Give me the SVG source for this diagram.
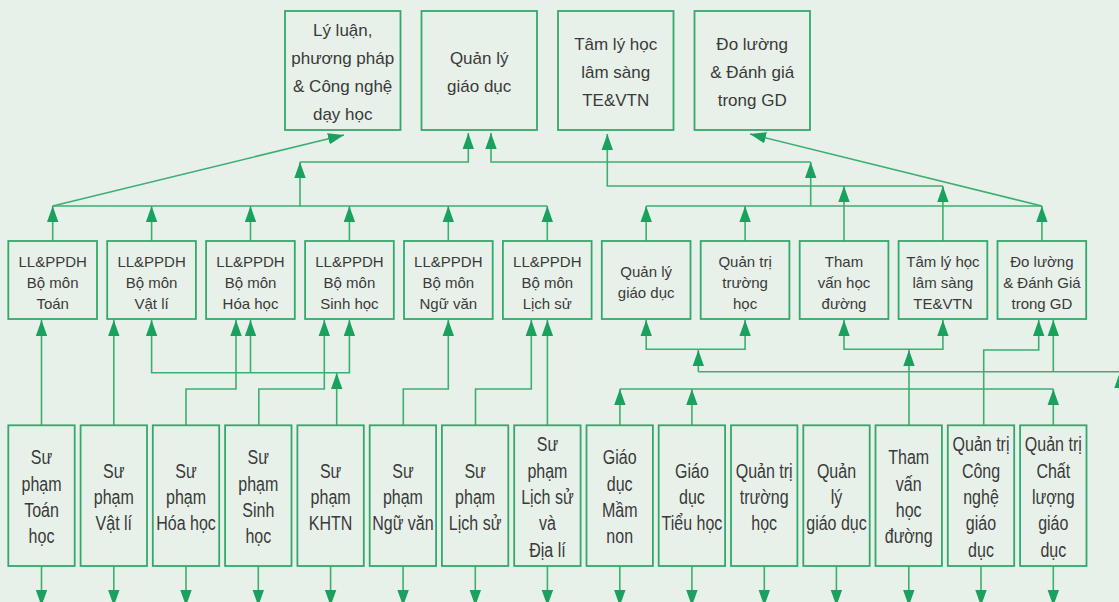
<svg xmlns="http://www.w3.org/2000/svg" width="1119" height="602" viewBox="0 0 1119 602">
<style>
.bx{fill:none;stroke:#34a86c;stroke-width:1.8}
.ln{fill:none;stroke:#3dae72;stroke-width:1.6}
.t{font-family:"Liberation Sans",Arial,sans-serif;font-size:17px;fill:#3a3a3a;text-anchor:middle}
.m{font-family:"Liberation Sans",Arial,sans-serif;font-size:15px;fill:#3a3a3a;text-anchor:middle}
.b{font-family:"Liberation Sans",Arial,sans-serif;font-size:20px;fill:#3a3a3a;text-anchor:middle}
</style>
<defs>
<marker id="ah" markerUnits="userSpaceOnUse" markerWidth="16" markerHeight="12" viewBox="0 0 16 12" refX="16" refY="6" orient="auto">
<path d="M0,0.3 L16,6 L0,11.7 z" fill="#1ba15e"/>
</marker>
</defs>
<rect width="1119" height="602" fill="#e8f1e9"/>

<g id="connectors" class="ln" marker-end="url(#ah)">
<!-- top level -->
<polyline points="52.7,206 547.3,206" marker-end="none"/>
<line x1="52.7" y1="241" x2="52.7" y2="206"/>
<line x1="151.6" y1="241" x2="151.6" y2="206"/>
<line x1="250.5" y1="241" x2="250.5" y2="206"/>
<line x1="349.4" y1="241" x2="349.4" y2="206"/>
<line x1="448.3" y1="241" x2="448.3" y2="206"/>
<line x1="547.3" y1="241" x2="547.3" y2="206"/>
<line x1="52.7" y1="206" x2="344" y2="135"/>
<line x1="300" y1="206" x2="300" y2="162"/>
<polyline points="300,162 468.3,162 468.3,133"/>
<polyline points="646.2,206 1041.9,206" marker-end="none"/>
<line x1="646.2" y1="241" x2="646.2" y2="206"/>
<line x1="745.1" y1="241" x2="745.1" y2="206"/>
<line x1="1041.9" y1="241" x2="1041.9" y2="206"/>
<line x1="810.7" y1="206" x2="810.7" y2="162"/>
<polyline points="810.7,162 491,162 491,133"/>
<line x1="1041.9" y1="206" x2="750" y2="134"/>
<line x1="844" y1="241" x2="844" y2="186"/>
<line x1="942.9" y1="241" x2="942.9" y2="186"/>
<polyline points="942.9,186 607.3,186 607.3,134"/>
<!-- bottom level -->
<line x1="41.5" y1="425" x2="41.5" y2="320"/>
<line x1="113.8" y1="425" x2="113.8" y2="320"/>
<polyline points="186,425 186,389 236,389 236,320"/>
<polyline points="258.8,425 258.8,389 324.3,389 324.3,320"/>
<line x1="336.7" y1="425" x2="336.7" y2="373"/>
<polyline points="250.5,372.7 151.6,372.7 151.6,320"/>
<polyline points="250.5,372.7 349.4,372.7 349.4,320"/>
<line x1="250.5" y1="372.7" x2="250.5" y2="320"/>
<polyline points="403.3,425 403.3,389 448.3,389 448.3,320"/>
<polyline points="475.5,425 475.5,389 531.3,389 531.3,320"/>
<line x1="547.4" y1="425" x2="547.4" y2="320"/>
<polyline points="619.9,389 1053.3,389" marker-end="none"/>
<line x1="619.9" y1="425" x2="619.9" y2="389"/>
<line x1="691.9" y1="425" x2="691.9" y2="389"/>
<line x1="1053.3" y1="425" x2="1053.3" y2="389"/>
<line x1="909" y1="425" x2="909" y2="350"/>
<polyline points="909,349.3 844,349.3 844,320"/>
<polyline points="909,349.3 942.9,349.3 942.9,320"/>
<polyline points="983.7,425 983.7,350 1038.7,350 1038.7,320"/>
<polyline points="698.3,349.3 646.2,349.3 646.2,320"/>
<polyline points="698.3,349.3 745.1,349.3 745.1,320"/>
<polyline points="698.3,371.7 1125,371.7" marker-end="none"/>
<line x1="698.3" y1="371.7" x2="698.3" y2="350"/>
<line x1="1053.3" y1="371.7" x2="1053.3" y2="320"/>
<line x1="1120" y1="425" x2="1120" y2="372"/>
<!-- down arrows -->
<line x1="41.5" y1="566" x2="41.5" y2="606"/>
<line x1="113.8" y1="566" x2="113.8" y2="606"/>
<line x1="186" y1="566" x2="186" y2="606"/>
<line x1="258.3" y1="566" x2="258.3" y2="606"/>
<line x1="330.6" y1="566" x2="330.6" y2="606"/>
<line x1="403.1" y1="566" x2="403.1" y2="606"/>
<line x1="475.3" y1="566" x2="475.3" y2="606"/>
<line x1="547.4" y1="566" x2="547.4" y2="606"/>
<line x1="619.8" y1="566" x2="619.8" y2="606"/>
<line x1="691.9" y1="566" x2="691.9" y2="606"/>
<line x1="764.3" y1="566" x2="764.3" y2="606"/>
<line x1="836.4" y1="566" x2="836.4" y2="606"/>
<line x1="908.8" y1="566" x2="908.8" y2="606"/>
<line x1="981" y1="566" x2="981" y2="606"/>
<line x1="1053.3" y1="566" x2="1053.3" y2="606"/>
</g>

<!-- top row -->
<g id="top1"><rect class="bx" x="285" y="11" width="115.5" height="119"/>
<text class="t"><tspan x="342.7" y="36">Lý luận,</tspan><tspan x="342.7" y="64">phương pháp</tspan><tspan x="342.7" y="92">&amp; Công nghệ</tspan><tspan x="342.7" y="120">dạy học</tspan></text></g>
<g id="top2"><rect class="bx" x="421.5" y="11" width="115.5" height="119"/>
<text class="t"><tspan x="479.2" y="64">Quản lý</tspan><tspan x="479.2" y="92">giáo dục</tspan></text></g>
<g id="top3"><rect class="bx" x="558" y="11" width="115.5" height="119"/>
<text class="t"><tspan x="615.7" y="50">Tâm lý học</tspan><tspan x="615.7" y="78">lâm sàng</tspan><tspan x="615.7" y="106">TE&amp;VTN</tspan></text></g>
<g id="top4"><rect class="bx" x="694.5" y="11" width="115.5" height="119"/>
<text class="t"><tspan x="752.2" y="50">Đo lường</tspan><tspan x="752.2" y="78">&amp; Đánh giá</tspan><tspan x="752.2" y="106">trong GD</tspan></text></g>

<!-- middle row -->
<g id="mid1"><rect class="bx" x="8.3" y="241" width="88.7" height="78"/>
<text class="m"><tspan x="52.7" y="266.5">LL&amp;PPDH</tspan><tspan x="52.7" y="287.5">Bộ môn</tspan><tspan x="52.7" y="308.5">Toán</tspan></text></g>
<g id="mid2"><rect class="bx" x="107.2" y="241" width="88.7" height="78"/>
<text class="m"><tspan x="151.6" y="266.5">LL&amp;PPDH</tspan><tspan x="151.6" y="287.5">Bộ môn</tspan><tspan x="151.6" y="308.5">Vật lí</tspan></text></g>
<g id="mid3"><rect class="bx" x="206.1" y="241" width="88.7" height="78"/>
<text class="m"><tspan x="250.5" y="266.5">LL&amp;PPDH</tspan><tspan x="250.5" y="287.5">Bộ môn</tspan><tspan x="250.5" y="308.5">Hóa học</tspan></text></g>
<g id="mid4"><rect class="bx" x="305.1" y="241" width="88.7" height="78"/>
<text class="m"><tspan x="349.4" y="266.5">LL&amp;PPDH</tspan><tspan x="349.4" y="287.5">Bộ môn</tspan><tspan x="349.4" y="308.5">Sinh học</tspan></text></g>
<g id="mid5"><rect class="bx" x="404" y="241" width="88.7" height="78"/>
<text class="m"><tspan x="448.3" y="266.5">LL&amp;PPDH</tspan><tspan x="448.3" y="287.5">Bộ môn</tspan><tspan x="448.3" y="308.5">Ngữ văn</tspan></text></g>
<g id="mid6"><rect class="bx" x="502.9" y="241" width="88.7" height="78"/>
<text class="m"><tspan x="547.3" y="266.5">LL&amp;PPDH</tspan><tspan x="547.3" y="287.5">Bộ môn</tspan><tspan x="547.3" y="308.5">Lịch sử</tspan></text></g>
<g id="mid7"><rect class="bx" x="601.8" y="241" width="88.7" height="78"/>
<text class="m"><tspan x="646.2" y="277">Quản lý</tspan><tspan x="646.2" y="298">giáo dục</tspan></text></g>
<g id="mid8"><rect class="bx" x="700.7" y="241" width="88.7" height="78"/>
<text class="m"><tspan x="745.1" y="266.5">Quản trị</tspan><tspan x="745.1" y="287.5">trường</tspan><tspan x="745.1" y="308.5">học</tspan></text></g>
<g id="mid9"><rect class="bx" x="799.7" y="241" width="88.7" height="78"/>
<text class="m"><tspan x="844" y="266.5">Tham</tspan><tspan x="844" y="287.5">vấn học</tspan><tspan x="844" y="308.5">đường</tspan></text></g>
<g id="mid10"><rect class="bx" x="898.6" y="241" width="88.7" height="78"/>
<text class="m"><tspan x="942.9" y="266.5">Tâm lý học</tspan><tspan x="942.9" y="287.5">lâm sàng</tspan><tspan x="942.9" y="308.5">TE&amp;VTN</tspan></text></g>
<g id="mid11"><rect class="bx" x="997.5" y="241" width="88.7" height="78"/>
<text class="m"><tspan x="1041.9" y="266.5">Đo lường</tspan><tspan x="1041.9" y="287.5">&amp; Đánh Giá</tspan><tspan x="1041.9" y="308.5">trong GD</tspan></text></g>

<!-- bottom row -->
<g id="bot1"><rect class="bx" x="8.3" y="425.3" width="66.4" height="140.7"/>
<text class="b" transform="matrix(0.8 0 0 1 41.5 0)"><tspan x="0" y="464.5">Sư</tspan><tspan x="0" y="490.8">phạm</tspan><tspan x="0" y="517.1">Toán</tspan><tspan x="0" y="543.4">học</tspan></text></g>
<g id="bot2"><rect class="bx" x="80.6" y="425.3" width="66.4" height="140.7"/>
<text class="b" transform="matrix(0.8 0 0 1 113.8 0)"><tspan x="0" y="477.7">Sư</tspan><tspan x="0" y="504">phạm</tspan><tspan x="0" y="530.3">Vật lí</tspan></text></g>
<g id="bot3"><rect class="bx" x="152.8" y="425.3" width="66.4" height="140.7"/>
<text class="b" transform="matrix(0.8 0 0 1 186 0)"><tspan x="0" y="477.7">Sư</tspan><tspan x="0" y="504">phạm</tspan><tspan x="0" y="530.3">Hóa học</tspan></text></g>
<g id="bot4"><rect class="bx" x="225.1" y="425.3" width="66.4" height="140.7"/>
<text class="b" transform="matrix(0.8 0 0 1 258.3 0)"><tspan x="0" y="464.5">Sư</tspan><tspan x="0" y="490.8">phạm</tspan><tspan x="0" y="517.1">Sinh</tspan><tspan x="0" y="543.4">học</tspan></text></g>
<g id="bot5"><rect class="bx" x="297.4" y="425.3" width="66.4" height="140.7"/>
<text class="b" transform="matrix(0.8 0 0 1 330.6 0)"><tspan x="0" y="477.7">Sư</tspan><tspan x="0" y="504">phạm</tspan><tspan x="0" y="530.3">KHTN</tspan></text></g>
<g id="bot6"><rect class="bx" x="369.7" y="425.3" width="66.4" height="140.7"/>
<text class="b" transform="matrix(0.8 0 0 1 402.9 0)"><tspan x="0" y="477.7">Sư</tspan><tspan x="0" y="504">phạm</tspan><tspan x="0" y="530.3">Ngữ văn</tspan></text></g>
<g id="bot7"><rect class="bx" x="441.9" y="425.3" width="66.4" height="140.7"/>
<text class="b" transform="matrix(0.8 0 0 1 475.1 0)"><tspan x="0" y="477.7">Sư</tspan><tspan x="0" y="504">phạm</tspan><tspan x="0" y="530.3">Lịch sử</tspan></text></g>
<g id="bot8"><rect class="bx" x="514.2" y="425.3" width="66.4" height="140.7"/>
<text class="b" transform="matrix(0.8 0 0 1 547.4 0)"><tspan x="0" y="451.4">Sư</tspan><tspan x="0" y="477.7">phạm</tspan><tspan x="0" y="504">Lịch sử</tspan><tspan x="0" y="530.3">và</tspan><tspan x="0" y="556.6">Địa lí</tspan></text></g>
<g id="bot9"><rect class="bx" x="586.5" y="425.3" width="66.4" height="140.7"/>
<text class="b" transform="matrix(0.8 0 0 1 619.7 0)"><tspan x="0" y="464.5">Giáo</tspan><tspan x="0" y="490.8">dục</tspan><tspan x="0" y="517.1">Mầm</tspan><tspan x="0" y="543.4">non</tspan></text></g>
<g id="bot10"><rect class="bx" x="658.7" y="425.3" width="66.4" height="140.7"/>
<text class="b" transform="matrix(0.8 0 0 1 691.9 0)"><tspan x="0" y="477.7">Giáo</tspan><tspan x="0" y="504">dục</tspan><tspan x="0" y="530.3">Tiểu học</tspan></text></g>
<g id="bot11"><rect class="bx" x="731" y="425.3" width="66.4" height="140.7"/>
<text class="b" transform="matrix(0.8 0 0 1 764.2 0)"><tspan x="0" y="477.7">Quản trị</tspan><tspan x="0" y="504">trường</tspan><tspan x="0" y="530.3">học</tspan></text></g>
<g id="bot12"><rect class="bx" x="803.3" y="425.3" width="66.4" height="140.7"/>
<text class="b" transform="matrix(0.8 0 0 1 836.5 0)"><tspan x="0" y="477.7">Quản</tspan><tspan x="0" y="504">lý</tspan><tspan x="0" y="530.3">giáo dục</tspan></text></g>
<g id="bot13"><rect class="bx" x="875.5" y="425.3" width="66.4" height="140.7"/>
<text class="b" transform="matrix(0.8 0 0 1 908.7 0)"><tspan x="0" y="464.5">Tham</tspan><tspan x="0" y="490.8">vấn</tspan><tspan x="0" y="517.1">học</tspan><tspan x="0" y="543.4">đường</tspan></text></g>
<g id="bot14"><rect class="bx" x="947.8" y="425.3" width="66.4" height="140.7"/>
<text class="b" transform="matrix(0.8 0 0 1 981 0)"><tspan x="0" y="451.4">Quản trị</tspan><tspan x="0" y="477.7">Công</tspan><tspan x="0" y="504">nghệ</tspan><tspan x="0" y="530.3">giáo</tspan><tspan x="0" y="556.6">dục</tspan></text></g>
<g id="bot15"><rect class="bx" x="1020.1" y="425.3" width="66.4" height="140.7"/>
<text class="b" transform="matrix(0.8 0 0 1 1053.3 0)"><tspan x="0" y="451.4">Quản trị</tspan><tspan x="0" y="477.7">Chất</tspan><tspan x="0" y="504">lượng</tspan><tspan x="0" y="530.3">giáo</tspan><tspan x="0" y="556.6">dục</tspan></text></g>
</svg>
